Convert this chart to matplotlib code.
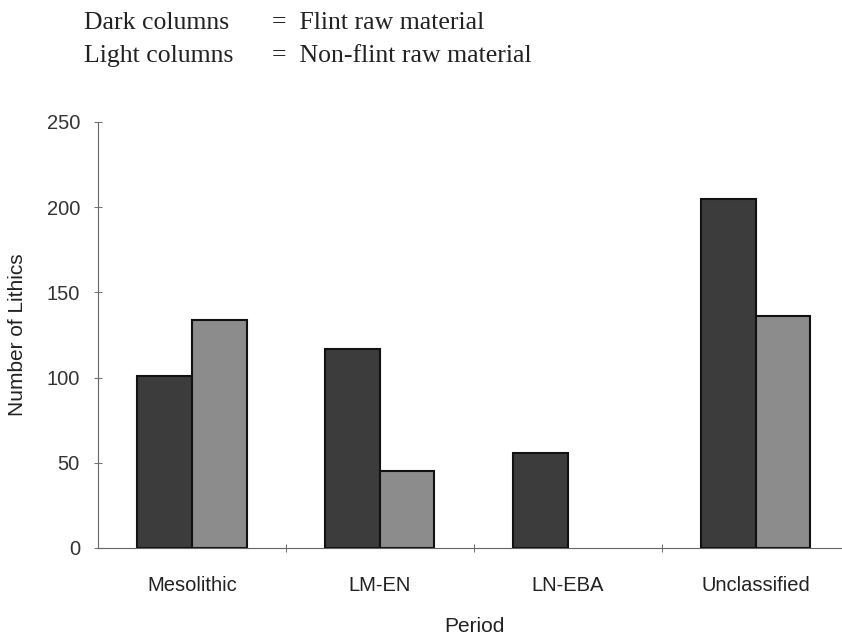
import matplotlib.pyplot as plt
import numpy as np

periods = ['Mesolithic', 'LM-EN', 'LN-EBA', 'Unclassified']
flint = [101, 117, 56, 205]
non_flint = [134, 45, 0, 136]
y_ticks = [0, 50, 100, 150, 200, 250]

fig = plt.figure(figsize=(8.42, 6.36), dpi=100)
ax = fig.add_axes([0.1164, 0.1384, 0.893, 0.670])

x = np.arange(len(periods))
w = 0.29
lw_f = [1.5 if v > 0 else 0 for v in flint]
lw_n = [1.5 if v > 0 else 0 for v in non_flint]
ax.bar(x - w / 2, flint, w, color='#3c3c3c', edgecolor='#111111', linewidth=lw_f)
ax.bar(x + w / 2, non_flint, w, color='#8c8c8c', edgecolor='#111111', linewidth=lw_n)

ax.set_xlim(-0.5, 3.5)
ax.set_ylim(0, 250)
ax.set_yticks(y_ticks)
ax.set_xticks(x)
ax.set_xticklabels(periods, fontfamily='Liberation Sans', fontsize=14.5, color='#222222')
ax.set_xticks([0.5, 1.5, 2.5], minor=True)
ax.tick_params(axis='x', which='major', length=0, pad=20)
ax.tick_params(axis='x', which='minor', length=6, direction='inout', color='#555555')
ax.tick_params(axis='y', length=6, direction='inout', color='#777777', labelsize=14.5, pad=10)
for lab in ax.get_yticklabels():
    lab.set_fontfamily('Liberation Sans')
    lab.set_color('#333333')

for s in ['top', 'right']:
    ax.spines[s].set_visible(False)
ax.spines['left'].set_color('#666666')
ax.spines['bottom'].set_color('#666666')

ax.set_ylabel('Number of Lithics', fontfamily='Liberation Sans', fontsize=15, labelpad=14, color='#222222')
ax.set_xlabel('Period', fontfamily='Liberation Sans', fontsize=15, labelpad=16, color='#222222')

hdr = dict(fontfamily='Liberation Serif', fontsize=18.5, va='center', color='#222222')
fig.text(84 / 842, 1 - 23 / 636, 'Dark columns', **hdr)
fig.text(272 / 842, 1 - 23 / 636, '=  Flint raw material', **hdr)
fig.text(84 / 842, 1 - 56 / 636, 'Light columns', **hdr)
fig.text(272 / 842, 1 - 56 / 636, '=  Non-flint raw material', **hdr)

fig.savefig('out.png', dpi=100)
